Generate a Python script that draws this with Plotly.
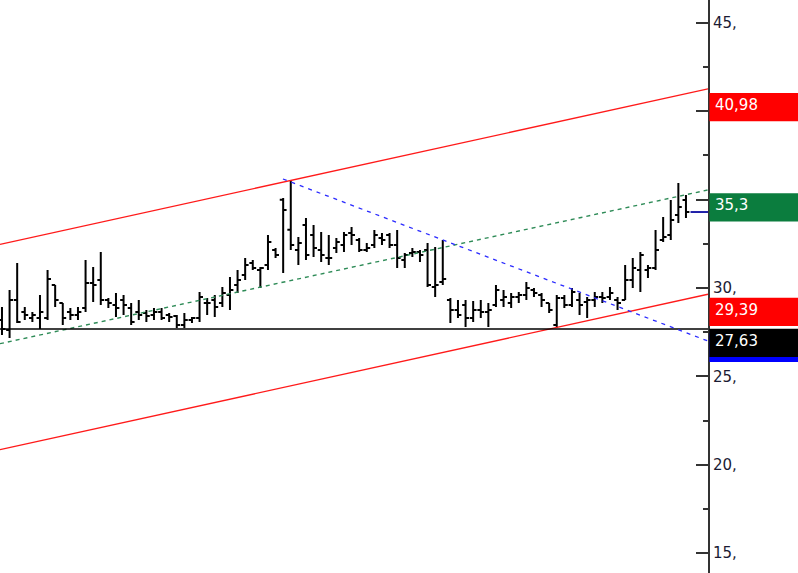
import plotly.graph_objects as go

# ---------------- data ----------------
opens = [28.19, 27.62, 29.32, 28.64, 28.30, 28.30, 28.30, 30.17, 29.15, 28.64,
         28.47, 28.87, 30.28, 30.45, 29.32, 29.04, 29.32, 28.87, 28.64, 28.58,
         28.47, 28.64, 28.47, 28.41, 27.91, 28.19, 28.30, 29.15, 29.32, 29.15,
         29.60, 30.17, 30.74, 31.41, 31.02, 31.30, 32.15, 35.00, 33.30, 32.15,
         33.57, 33.00, 32.15, 31.70, 32.26, 32.43, 33.11, 32.72, 32.15, 32.43,
         32.83, 33.00, 32.43, 31.58, 31.98, 32.04, 32.15, 30.06, 30.34, 29.32,
         28.75, 29.04, 28.30, 28.75, 28.64, 29.04, 29.32, 29.15, 29.49, 29.60,
         29.89, 29.60, 29.15, 27.91, 29.43, 29.04, 29.32, 29.21, 29.32, 29.49,
         29.49, 29.32, 29.32, 30.45, 31.02, 31.02, 31.13, 32.72, 33.00, 34.13,
         34.98]
highs = [28.92, 29.89, 31.41, 28.92, 28.64, 29.60, 31.02, 30.17, 29.15, 28.87,
         28.92, 31.58, 31.19, 32.04, 29.43, 29.72, 29.60, 29.15, 29.32, 28.75,
         28.87, 28.87, 28.58, 28.47, 28.58, 28.36, 29.77, 29.43, 29.60, 30.06,
         30.62, 31.02, 31.70, 31.58, 31.19, 33.00, 32.26, 35.09, 36.11, 32.89,
         33.96, 33.57, 33.17, 33.00, 32.83, 33.17, 33.45, 32.83, 32.55, 33.28,
         33.11, 33.11, 33.28, 31.98, 32.26, 32.15, 32.55, 32.32, 32.72, 29.43,
         29.32, 29.32, 29.26, 29.32, 29.15, 30.17, 29.89, 29.72, 29.77, 30.34,
         30.00, 29.72, 29.15, 29.60, 29.60, 30.00, 29.72, 29.49, 29.77, 29.77,
         30.06, 29.49, 31.30, 31.70, 32.04, 31.30, 33.28, 34.02, 34.98, 35.94,
         35.26]
lows = [27.34, 27.17, 28.02, 28.19, 28.07, 27.68, 28.19, 28.92, 27.91, 28.19,
        28.19, 28.64, 29.21, 29.04, 28.87, 28.36, 28.47, 27.91, 28.19, 28.07,
        28.19, 28.19, 28.07, 27.74, 27.74, 28.02, 28.07, 28.47, 28.36, 28.92,
        28.75, 29.72, 30.45, 31.02, 30.00, 31.02, 31.70, 30.85, 32.15, 31.30,
        31.58, 31.75, 31.47, 31.30, 31.98, 32.04, 32.43, 32.04, 32.04, 32.26,
        32.43, 32.26, 31.13, 31.13, 31.75, 31.47, 30.06, 29.49, 30.17, 28.02,
        28.30, 27.79, 28.07, 28.30, 27.79, 28.92, 28.92, 28.87, 29.15, 29.32,
        29.49, 28.92, 28.58, 27.74, 28.87, 28.92, 28.47, 28.30, 28.92, 29.15,
        29.32, 28.75, 29.32, 30.00, 29.77, 30.57, 31.02, 32.60, 32.72, 33.68,
        33.96]
closes = [27.68, 29.32, 28.07, 28.47, 28.47, 28.64, 30.51, 29.32, 28.30, 28.47,
          28.64, 30.28, 30.17, 29.32, 29.15, 28.87, 29.04, 28.07, 28.47, 28.41,
          28.64, 28.30, 28.36, 27.91, 28.19, 28.30, 29.49, 29.15, 28.92, 29.72,
          29.89, 30.45, 31.30, 31.13, 31.13, 32.60, 31.87, 34.41, 32.43, 32.55,
          31.87, 32.26, 31.87, 31.70, 32.60, 33.00, 33.00, 32.15, 32.26, 33.00,
          32.72, 32.43, 31.70, 31.87, 32.04, 31.87, 30.17, 30.17, 30.51, 28.75,
          28.47, 28.30, 28.75, 28.64, 28.75, 29.89, 29.49, 29.49, 29.60, 30.00,
          29.72, 29.32, 28.75, 29.43, 29.04, 29.77, 29.04, 29.32, 29.49, 29.43,
          29.72, 29.15, 30.45, 31.13, 31.87, 31.13, 32.15, 32.89, 33.85, 34.58,
          34.30]
bar_index = list(range(len(opens)))

x_range = [-0.26, 92.9]
y_range = [13.87, 46.30]

upper_x, upper_y = [-0.26, 92.9], [32.47, 41.27]
lower_x, lower_y = [-0.26, 92.9], [20.85, 29.65]
mid_x, mid_y = [-0.26, 92.9], [26.85, 35.55]
blue_x, blue_y = [36.97, 92.9], [36.17, 27.0]
support_level = 27.68
last_marker_x, last_marker_y = [90.6, 92.9], [34.30, 34.30]

tick_vals = [15, 20, 25, 30, 35, 40, 45]
# labels at 35 and 40 sit under the value boxes in the original
tick_text = ["15,", "20,", "25,", "30,", "", "", "45,"]
minor_vals = [17.5, 22.5, 27.5, 32.5, 37.5, 42.5]

label_values = [27.35, 40.98, 35.3, 29.39, 27.63]
label_texts = ["", "40,98", "35,3", "29,39", "27,63"]
label_colors = ["#0000ff", "#ff0000", "#0b7d3e", "#ff0000", "#000000"]

# ---------------- figure ----------------
fig = go.Figure()

def line(xs, ys, color, width, dash="solid"):
    fig.add_trace(go.Scatter(x=xs, y=ys, mode="lines", hoverinfo="skip",
                             line=dict(color=color, width=width, dash=dash)))

line(upper_x, upper_y, "#ff1a1a", 1.4)
line(lower_x, lower_y, "#ff1a1a", 1.4)
line(mid_x, mid_y, "#2e8b57", 1.4, "4px,4px")
line(x_range, [support_level, support_level], "#000000", 1.4)

fig.add_trace(go.Ohlc(x=bar_index, open=opens, high=highs, low=lows, close=closes,
                      increasing_line_color="black", decreasing_line_color="black",
                      line_width=2, tickwidth=0.45, hoverinfo="skip"))

line(blue_x, blue_y, "#2a2aff", 1.3, "4px,5px")
line(last_marker_x, last_marker_y, "#1f1fa8", 2)

box_h = 1.6
def to_paper(v):
    return (v - y_range[0]) / (y_range[1] - y_range[0])

for v, t, c in zip(label_values, label_texts, label_colors):
    top = v + 0.06
    fig.add_shape(type="rect", xref="paper", yref="paper",
                  x0=1.002, x1=1.2, y0=to_paper(top - box_h), y1=to_paper(top),
                  fillcolor=c, line=dict(width=0), layer="above")
    if t:
        fig.add_annotation(xref="paper", yref="y", x=1, y=top - box_h / 2 + 0.12,
                           text=t, showarrow=False, xanchor="left", xshift=5,
                           font=dict(family="DejaVu Sans", size=15, color="white"))

fig.update_layout(
    width=798, height=573,
    margin=dict(l=0, r=90, t=0, b=0),
    plot_bgcolor="white", paper_bgcolor="white",
    showlegend=False,
    xaxis=dict(range=x_range, visible=False, rangeslider=dict(visible=False),
               showgrid=False, zeroline=False),
    yaxis=dict(range=y_range, side="right", tickmode="array",
               tickvals=tick_vals, ticktext=tick_text,
               ticks="inside", ticklen=12, tickwidth=1.5, tickcolor="#333",
               showline=True, linecolor="#333", linewidth=2,
               showgrid=False, zeroline=False,
               tickfont=dict(family="DejaVu Sans", size=15, color="#1b1b33"),
               minor=dict(tickmode="array", tickvals=minor_vals, ticks="inside",
                          ticklen=5, tickwidth=1.5, tickcolor="#333", showgrid=False)),
)

fig.write_html("out.html", config={"displayModeBar": False},
               post_script="document.body.style.margin='0';document.body.style.overflow='hidden';")
